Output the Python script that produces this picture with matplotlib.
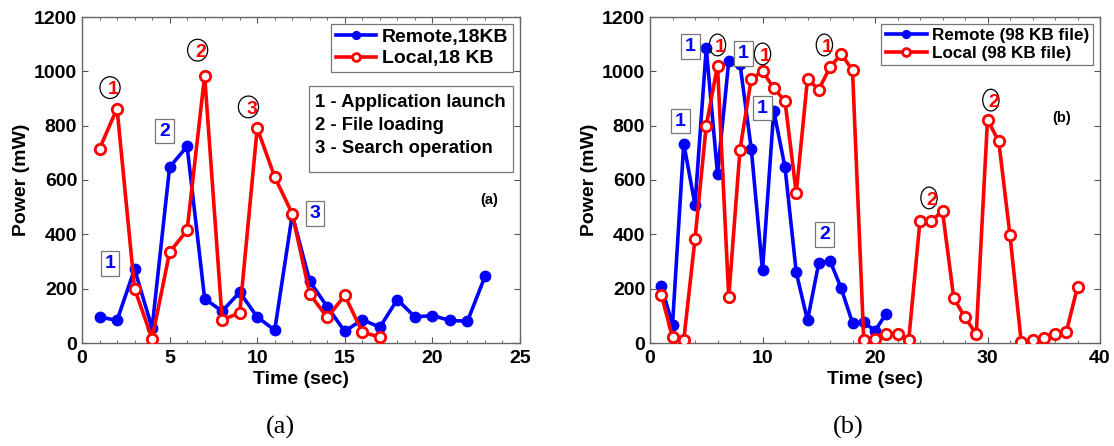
import numpy as np
import matplotlib.pyplot as plt
from matplotlib.patches import Ellipse, Rectangle
from matplotlib.ticker import MultipleLocator

# ---- data (a) 18 KB ----
t_remote_a = list(range(1, 24))
remote_a = [96, 83, 272, 55, 647, 724, 163, 117, 187, 96, 47, 472, 227, 133,
            43, 86, 58, 160, 96, 101, 83, 80, 245]
t_local_a = list(range(1, 18))
local_a = [715, 863, 200, 16, 334, 415, 984, 86, 110, 791, 611, 476, 180, 94,
           175, 40, 22]

# ---- data (b) 98 KB ----
t_remote_b = list(range(1, 22))
remote_b = [211, 67, 734, 509, 1086, 623, 1037, 1027, 715, 267, 855, 647, 260,
            83, 294, 303, 201, 74, 76, 45, 108]
t_local_b = list(range(1, 39))
local_b = [178, 22, 10, 383, 800, 1021, 168, 712, 972, 1000, 939, 890, 552, 972,
           933, 1015, 1064, 1004, 10, 15, 34, 34, 12, 450, 450, 485, 166, 94,
           33, 822, 742, 396, 2, 12, 18, 33, 40, 206]

# annotation positions (x, y, label)
circles_a = [(1.6, 940, '1'), (6.6, 1078, '2'), (9.5, 869, '3')]
boxes_a = [(1.6, 294, '1'), (4.7, 780, '2'), (13.3, 478, '3')]
circles_b = [(6.0, 1097, '1'), (10.0, 1064, '1'), (15.5, 1097, '1'),
             (24.8, 534, '2'), (30.3, 894, '2')]
boxes_b = [(2.7, 817, '1'), (3.6, 1090, '1'), (8.3, 1067, '1'),
           (10.0, 865, '1'), (15.5, 398, '2')]
steps_a = ['1 - Application launch', '2 - File loading', '3 - Search operation']

plt.rcParams['font.family'] = ['Liberation Sans', 'DejaVu Sans']
plt.rcParams['font.weight'] = 'bold'

fig = plt.figure(figsize=(11.14, 4.46), dpi=100)
ax1 = fig.add_axes([82/1114, 1-343/446, 438/1114, 326/446])
ax2 = fig.add_axes([650/1114, 1-343/446, 450/1114, 326/446])

BLUE = '#0000ff'
RED = '#ff0000'


def draw(ax, tr, r, tl, l, lab_r, lab_l):
    ax.plot(tr, r, color=BLUE, lw=2.6, marker='o', ms=7.5, mfc=BLUE, mec=BLUE,
            label=lab_r, zorder=3)
    ax.plot(tl, l, color=RED, lw=2.6, marker='o', ms=7.5, mfc='white', mec=RED,
            mew=2, label=lab_l, zorder=4)


def style(ax, xmax, xmaj, xmin):
    ax.set_xlim(0, xmax)
    ax.set_ylim(0, 1200)
    ax.xaxis.set_major_locator(MultipleLocator(xmaj))
    ax.xaxis.set_minor_locator(MultipleLocator(xmin))
    ax.yaxis.set_major_locator(MultipleLocator(200))
    ax.tick_params(which='both', direction='in', top=True, right=True,
                   labelsize=14, colors='#555555', labelcolor='black')
    ax.tick_params(axis='x', which='major', pad=5)
    ax.tick_params(axis='y', which='major', pad=3.5)
    ax.tick_params(which='major', length=4)
    ax.tick_params(which='minor', length=2)
    for lbl in ax.get_xticklabels() + ax.get_yticklabels():
        lbl.set_fontweight('bold')
    for s in ax.spines.values():
        s.set_color('#666666')
        s.set_linewidth(1)
    ax.set_xlabel('Time (sec)', fontsize=14, fontweight='bold', labelpad=3)
    ax.set_ylabel('Power (mW)', fontsize=14, fontweight='bold', labelpad=3)


def annotate(ax, circles, boxes, ew, eh):
    for x, y, s in circles:
        ax.add_patch(Ellipse((x, y), ew, eh, fill=False, ec='black', lw=0.9,
                             zorder=5))
        ax.text(x + ew*0.15, y - 8, s, color=RED, fontsize=14,
                fontweight='bold', ha='center', va='center', zorder=6)
    for x, y, s in boxes:
        ax.text(x, y, s, color=BLUE, fontsize=14, fontweight='bold',
                ha='center', va='center', zorder=6,
                bbox=dict(boxstyle='square,pad=0.2', fc='white',
                          ec='#777777', lw=0.9))


draw(ax1, t_remote_a, remote_a, t_local_a, local_a, 'Remote,18KB', 'Local,18 KB')
style(ax1, 25, 5, 1)
annotate(ax1, circles_a, boxes_a, 1.15, 80)
leg1 = ax1.legend(loc='upper right', fontsize=14, frameon=True, fancybox=False,
                  edgecolor='#555555', bbox_to_anchor=(0.984, 0.98),
                  borderaxespad=0, handlelength=2.05, markerscale=0.75,
                  borderpad=0.25, labelspacing=0.2, handletextpad=0.3)
leg1.get_frame().set_linewidth(0.9)

# steps description box
ax1.add_patch(Rectangle((0.518, 0.525), 0.466, 0.263, transform=ax1.transAxes,
                        fc='white', ec='#777777', lw=0.9, zorder=7))
for i, s in enumerate(steps_a):
    ax1.text(0.532, 0.739 - i*0.0705, s, transform=ax1.transAxes, ha='left',
             va='center', fontsize=13.3, fontweight='bold', zorder=8)

ax1.text(0.93, 0.44, '(a)', transform=ax1.transAxes, ha='center',
         va='center', fontsize=10.5, fontweight='bold')

draw(ax2, t_remote_b, remote_b, t_local_b, local_b,
     'Remote (98 KB file)', 'Local (98 KB file)')
style(ax2, 40, 10, 2)
annotate(ax2, circles_b, boxes_b, 1.45, 80)
leg2 = ax2.legend(loc='upper right', fontsize=12.3, frameon=True, fancybox=False,
                  edgecolor='#555555', bbox_to_anchor=(0.985, 0.98),
                  borderaxespad=0, handlelength=2.4, markerscale=0.75,
                  borderpad=0.25, labelspacing=0.2, handletextpad=0.3)
leg2.get_frame().set_linewidth(0.9)
ax2.text(0.915, 0.69, '(b)', transform=ax2.transAxes, ha='center',
         va='center', fontsize=10.5, fontweight='bold')

fig.text(280/1114, 1-427/446, '(a)', ha='center', va='center', fontsize=19,
         family='Liberation Serif', fontweight='normal')
fig.text(848/1114, 1-427/446, '(b)', ha='center', va='center', fontsize=19,
         family='Liberation Serif', fontweight='normal')

fig.savefig('out.png', dpi=100)
